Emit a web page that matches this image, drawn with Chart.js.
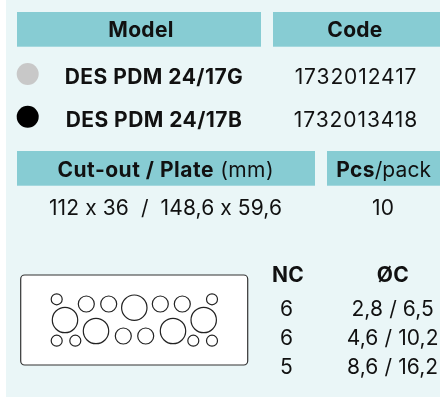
<!DOCTYPE html>
<html>
<head>
<meta charset="utf-8">
<style>
  html, body { margin: 0; padding: 0; background: #fff; }
  canvas { display: block; }
</style>
<script src="https://cdn.jsdelivr.net/npm/chart.js@4"></script>
</head>
<body>
<canvas id="chart" width="440" height="397"></canvas>
<script>
// table content
const models = ['DES PDM 24/17G', 'DES PDM 24/17B'];
const codes = ['1732012417', '1732013418'];
const swatchColors = ['#c8c8c8', '#000000'];
const cutOut = '112 x 36  /  148,6 x 59,6';
const pack = '10';
const holeCounts = ['6', '6', '5'];
const holeSizes = ['2,8 / 6,5', '4,6 / 10,2', '8,6 / 16,2'];

// cable holes in the plate drawing, one group per size
const smallX = [56.7, 75.3, 193.3, 212, 56.7, 212];
const smallY = [340.7, 340.7, 340.7, 340.7, 299.3, 299.3];
const mediumX = [86.3, 108.7, 160.3, 182.3, 123.3, 145.7];
const mediumY = [304, 304, 304, 304, 336, 336];
const largeX = [65, 96, 134.3, 173, 203.7];
const largeY = [320, 331, 307.7, 331, 320];

const FONT = 'Inter, sans-serif';
const BOLD = '700 21px ' + FONT;
const REGULAR = '400 21px ' + FONT;
const TEAL = '#87ccd3';

// x0, x1, y0, y1 in scale units
const headerBoxes = [
  [17, 261, 12, 46.7],
  [273, 440, 12, 46.7],
  [17, 315, 151, 185.7],
  [327, 440, 151, 185.7],
];
const plateBox = [20.7, 247.7, 275, 365];

function holes(xs, ys, r) {
  return xs.map((x, i) => ({ x: x, y: ys[i], r: r }));
}

// centred run of text pieces, each with its own font and tracking
function drawRuns(ctx, runs, cx, y) {
  let width = 0;
  runs.forEach(run => {
    ctx.font = run.font;
    ctx.letterSpacing = run.spacing + 'px';
    width += ctx.measureText(run.text).width;
  });
  let x = cx - width / 2;
  runs.forEach(run => {
    ctx.font = run.font;
    ctx.letterSpacing = run.spacing + 'px';
    ctx.fillText(run.text, x, y);
    x += ctx.measureText(run.text).width;
  });
}

const sheetPlugin = {
  id: 'sheet',
  beforeDatasetsDraw(chart) {
    const { ctx, scales: { x, y } } = chart;
    ctx.save();
    // page tint, the left strip stays white
    ctx.fillStyle = '#eaf6f7';
    ctx.fillRect(x.getPixelForValue(6), 0, chart.width, chart.height);

    ctx.fillStyle = TEAL;
    headerBoxes.forEach(b => {
      const left = x.getPixelForValue(b[0]);
      const top = y.getPixelForValue(b[2]);
      ctx.fillRect(left, top, x.getPixelForValue(b[1]) - left, y.getPixelForValue(b[3]) - top);
    });

    const left = x.getPixelForValue(plateBox[0]);
    const top = y.getPixelForValue(plateBox[2]);
    ctx.beginPath();
    ctx.roundRect(left, top, x.getPixelForValue(plateBox[1]) - left, y.getPixelForValue(plateBox[3]) - top, 4);
    ctx.fillStyle = '#ffffff';
    ctx.fill();
    ctx.lineWidth = 1.2;
    ctx.strokeStyle = '#333333';
    ctx.stroke();
    ctx.restore();
  },
  afterDatasetsDraw(chart) {
    const { ctx, scales: { x, y } } = chart;
    ctx.save();
    ctx.fillStyle = '#111111';
    ctx.textBaseline = 'alphabetic';
    const put = (runs, cx, cy) => drawRuns(ctx, runs, x.getPixelForValue(cx), y.getPixelForValue(cy));
    const b = (text, spacing = 0.3) => ({ text: text, font: BOLD, spacing: spacing });
    const r = (text, spacing = 0.1) => ({ text: text, font: REGULAR, spacing: spacing });

    put([b('Model')], 141, 37.3);
    put([b('Code')], 355, 37.3);
    models.forEach((m, i) => put([b(m, 0.45)], 154, 84.3 + i * 43));
    codes.forEach((c, i) => put([r(c, 0.9)], 356, 84.3 + i * 43));

    put([b('Cut-out / Plate', 0.5), r(' (mm)', 0.4)], 165.7, 176.7);
    put([b('Pcs'), r('/pack')], 383.7, 176.7);
    put([r(cutOut)], 165.5, 215.3);
    put([r(pack)], 383, 215.3);

    put([b('NC')], 288, 282.3);
    put([b('ØC')], 393, 282.3);
    holeCounts.forEach((n, i) => put([r(n)], 286.5, 316 + i * 29));
    holeSizes.forEach((s, i) => put([r(s)], 392.7, 316 + i * 29));
    ctx.restore();
  },
};

const holeStyle = {
  backgroundColor: 'rgba(255,255,255,0)',
  borderColor: '#222222',
  borderWidth: 1.2,
};

new Chart(document.getElementById('chart'), {
  type: 'bubble',
  data: {
    datasets: [
      { label: 'Small', data: holes(smallX, smallY, 5.5), ...holeStyle },
      { label: 'Medium', data: holes(mediumX, mediumY, 8), ...holeStyle },
      { label: 'Large', data: holes(largeX, largeY, 12.7), ...holeStyle },
      {
        label: 'Colours',
        data: holes([27.7, 27.7], [74, 116.7], 11),
        backgroundColor: swatchColors,
        borderWidth: 0,
      },
    ],
  },
  options: {
    responsive: false,
    animation: false,
    clip: false,
    layout: { padding: 0, autoPadding: false },
    plugins: { legend: { display: false }, tooltip: { enabled: false } },
    scales: {
      x: { type: 'linear', min: 0, max: 440, display: false },
      y: { type: 'linear', min: 0, max: 397, reverse: true, display: false },
    },
  },
  plugins: [sheetPlugin],
});
</script>
</body>
</html>
